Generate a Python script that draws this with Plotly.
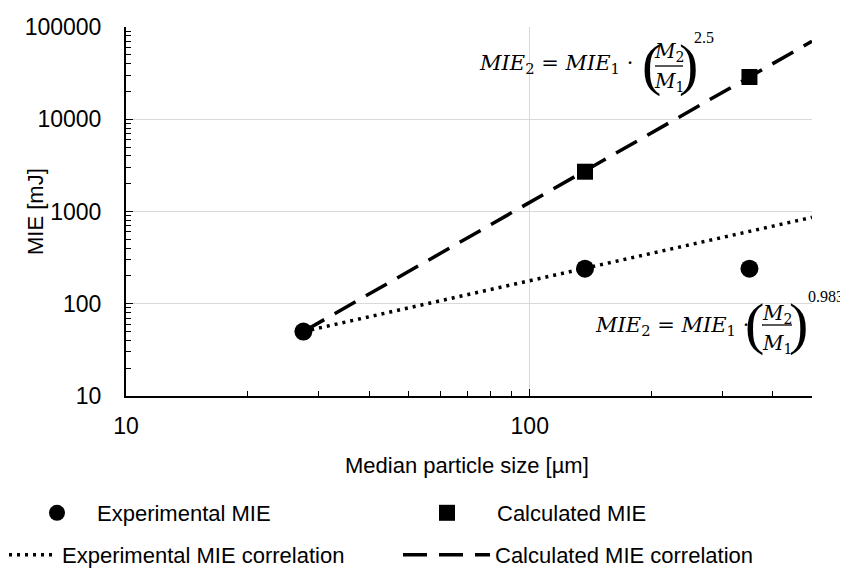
import plotly.graph_objects as go

# ---------------- data ----------------
particle_size = [27.5, 137, 350]          # µm
mie_experimental = [50, 240, 240]         # mJ
calc_size = [137, 350]
mie_calculated = [2700, 28700]
corr_size = [27.5, 500]
exp_corr_mie = [50, 865]
calc_corr_mie = [50, 70000]
y_tickvals = [10, 100, 1000, 10000, 100000]
y_ticktext = ["10", "100", "1000", "10000", "100000"]
x_tickvals = [10, 100]
x_ticktext = ["10", "100"]

W, H = 848, 581
OFF = 8  # page body margin
SL, SR, ST, SB = 126, 812, 27, 396   # plot area in screen pixels
L, T = SL - OFF, ST - OFF
R, B = W - (SR - OFF), H - (SB - OFF)
SANS = "Liberation Sans, Arial, sans-serif"
SERIF = "DejaVu Serif, serif"
PAREN = "Liberation Serif, serif"


def px(x):
    return (x - SL) / (SR - SL)


def py(y):
    return (SB - y) / (SB - ST)


fig = go.Figure()
fig.add_trace(go.Scatter(
    x=particle_size, y=mie_experimental, mode="markers", name="Experimental MIE",
    marker=dict(symbol="circle", size=18, color="black"), legend="legend"))
fig.add_trace(go.Scatter(
    x=calc_size, y=mie_calculated, mode="markers", name="Calculated MIE",
    marker=dict(symbol="square", size=16, color="black"), legend="legend2"))
fig.add_trace(go.Scatter(
    x=corr_size, y=exp_corr_mie, mode="lines", name="Experimental MIE correlation",
    line=dict(color="black", width=3.5, dash="3px,5px"), legend="legend3"))
fig.add_trace(go.Scatter(
    x=corr_size, y=calc_corr_mie, mode="lines", name="Calculated MIE correlation",
    line=dict(color="black", width=3.5, dash="24px,12px"), legend="legend4"))

axis_common = dict(
    type="log", showline=True, linecolor="black", linewidth=2,
    showgrid=True, gridcolor="#d9d9d9", gridwidth=1.3, zeroline=False,
    ticks="inside", ticklen=7, tickwidth=1, tickcolor="black",
    tickfont=dict(family=SANS, size=23, color="black"),
    minor=dict(ticks="inside", ticklen=5, tickwidth=1, tickcolor="black",
               dtick="D1", showgrid=False),
    automargin=False,
)

fig.update_xaxes(range=[1, 2.69897], tickvals=x_tickvals, ticktext=x_ticktext,
                 ticklabelstandoff=8, **axis_common)
fig.update_yaxes(range=[1, 5], tickvals=y_tickvals, ticktext=y_ticktext,
                 ticklabelstandoff=18, **axis_common)

ann = []
# axis titles
ann.append(dict(text="Median particle size [µm]", x=px(467), y=py(466),
                font=dict(family=SANS, size=22, color="black")))
ann.append(dict(text="MIE [mJ]", x=px(36), y=py(212), textangle=-90,
                font=dict(family=SANS, size=22, color="black")))


def equation(x0, ycap, paren_l, paren_r, fx, fnum_y, fline_y, fden_y, exp_x, exp_y, expo):
    out = []
    out.append(dict(text="<i>MIE</i><sub>2</sub> = <i>MIE</i><sub>1</sub> ·",
                    x=px(x0), y=py(ycap + 3), xanchor="left",
                    font=dict(family=SERIF, size=21, color="black")))
    out.append(dict(text="(", x=px(paren_l), y=py(fline_y - 2), font=dict(family=PAREN, size=58, color="black")))
    out.append(dict(text=")", x=px(paren_r), y=py(fline_y - 2), font=dict(family=PAREN, size=58, color="black")))
    out.append(dict(text="<i>M</i><sub>2</sub>", x=px(fx), y=py(fnum_y + 2),
                    font=dict(family=SERIF, size=20, color="black")))
    out.append(dict(text="<i>M</i><sub>1</sub>", x=px(fx), y=py(fden_y + 3),
                    font=dict(family=SERIF, size=20, color="black")))
    out.append(dict(text=expo, x=px(exp_x), y=py(exp_y), xanchor="left",
                    font=dict(family=PAREN, size=16, color="black")))
    return out


ann += equation(477, 61, 651, 688, 669, 50, 66, 79, 692, 37, "2.5")
ann += equation(593, 323, 754, 798, 777, 312, 325, 341, 806, 296, "0.983")

for a in ann:
    a.setdefault("xref", "paper")
    a.setdefault("yref", "paper")
    a.setdefault("showarrow", False)
    a.setdefault("xanchor", "center")
    a.setdefault("yanchor", "middle")
fig.update_layout(annotations=ann)

shapes = [
    dict(type="line", xref="paper", yref="paper", x0=px(655), x1=px(683), y0=py(66), y1=py(66),
         line=dict(color="black", width=1.3)),
    dict(type="line", xref="paper", yref="paper", x0=px(762), x1=px(792), y0=py(325), y1=py(325),
         line=dict(color="black", width=1.3)),
]


def legend_box(x, y, itemwidth):
    return dict(orientation="h", x=px(x), y=py(y), xanchor="left", yanchor="middle",
                itemwidth=itemwidth, font=dict(family=SANS, size=22, color="black"),
                bgcolor="rgba(0,0,0,0)")


fig.update_layout(
    width=W, height=H,
    margin=dict(l=L, r=R, t=T, b=B, autoexpand=False),
    plot_bgcolor="white", paper_bgcolor="white",
    shapes=shapes,
    showlegend=True,
    legend=legend_box(17, 513, 70),
    legend2=legend_box(397, 513, 90),
    legend3=legend_box(-12, 555, 64),
    legend4=legend_box(398, 555, 87),
)

fig.write_html("out.html")
